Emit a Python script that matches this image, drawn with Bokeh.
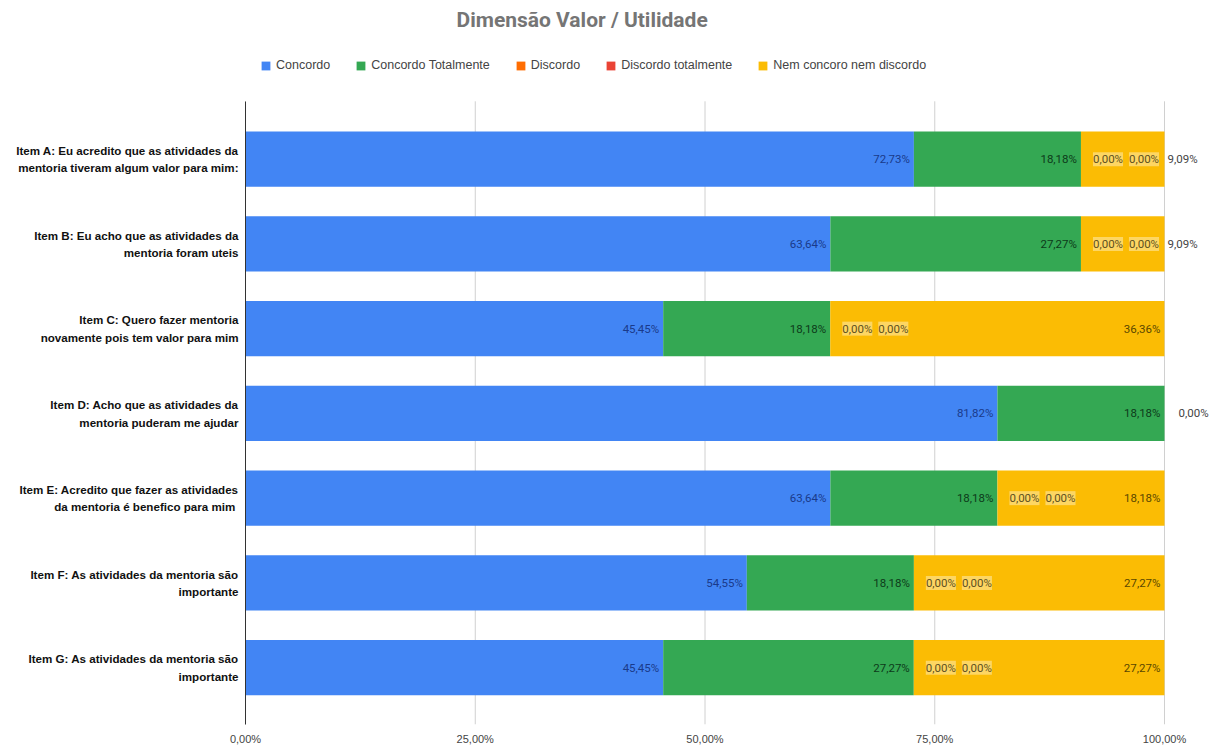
from bokeh.plotting import figure
from bokeh.models import (ColumnDataSource, FixedTicker, LabelSet,
                          Legend, LegendItem)
from bokeh.core.properties import value
from bokeh.embed import file_html
from bokeh.resources import INLINE

# ---------------- data ----------------
item_labels = [
    "Item A: Eu acredito que as atividades da\nmentoria tiveram algum valor para mim:",
    "Item B: Eu acho que as atividades da\nmentoria foram uteis",
    "Item C: Quero fazer mentoria\nnovamente pois tem valor para mim",
    "Item D: Acho que as atividades da\nmentoria puderam me ajudar",
    "Item E: Acredito que fazer as atividades\nda mentoria  é benefico para mim",
    "Item F: As atividades da mentoria são\nimportante",
    "Item G: As atividades da mentoria são\nimportante",
]
series_names = ["Concordo", "Concordo Totalmente", "Discordo",
                "Discordo totalmente", "Nem concoro nem discordo"]
concordo = [72.73, 63.64, 45.45, 81.82, 63.64, 54.55, 45.45]
concordo_totalmente = [18.18, 27.27, 18.18, 18.18, 18.18, 18.18, 27.27]
discordo = [0.00, 0.00, 0.00, 0.00, 0.00, 0.00, 0.00]
discordo_totalmente = [0.00, 0.00, 0.00, 0.00, 0.00, 0.00, 0.00]
nem = [9.09, 9.09, 36.36, 0.00, 18.18, 27.27, 27.27]
x_ticks = [0, 25, 50, 75, 100]
x_tick_labels = ["0,00%", "25,00%", "50,00%", "75,00%", "100,00%"]
colors = ["#4285F4", "#34A853", "#FF6D01", "#EA4335", "#FBBC04"]


def fmt(v):
    return ("%.2f%%" % v).replace(".", ",")


n = len(item_labels)
ypos = [n - 1 - i for i in range(n)]          # first item on top

cols = ["s0", "s1", "s2", "s3", "s4"]
src = ColumnDataSource(dict(y=ypos, s0=concordo, s1=concordo_totalmente,
                            s2=discordo, s3=discordo_totalmente, s4=nem))

# layout geometry (pixels): frame 245..1216 x 35..725, one row = 85 px
x_end = 100 * 971 / 919
y_lo = -57 / 85
y_bar_top = y_lo + 625 / 85
y_hi = y_lo + 690 / 85

p = figure(width=1216, height=747, x_range=(0, x_end), y_range=(y_lo, y_hi),
           output_backend="svg", toolbar_location=None,
           min_border_left=245, min_border_right=0,
           min_border_top=35, min_border_bottom=22)

# vertical grid lines limited to the bar area
p.segment(x0=x_ticks, x1=x_ticks, y0=[y_lo] * len(x_ticks),
          y1=[y_bar_top] * len(x_ticks), line_color="#d0d0d0", line_width=1)

renderers = p.hbar_stack(cols, y="y", height=0.65, color=colors,
                         line_color=None, source=src)

# title
p.title.text = "Dimensão Valor / Utilidade"
p.title.align = "left"
p.title.offset = 211
p.title.standoff = 10
p.title.text_font = "Roboto"
p.title.text_font_size = "21px"
p.title.text_font_style = "bold"
p.title.text_color = "#757575"

# axes
p.xaxis.ticker = FixedTicker(ticks=x_ticks)
p.xaxis.major_label_overrides = {t: l for t, l in zip(x_ticks, x_tick_labels)}
p.xaxis.axis_line_color = None
p.xaxis.major_tick_line_color = None
p.xaxis.minor_tick_line_color = None
p.xaxis.major_tick_out = 0
p.xaxis.major_tick_in = 0
p.xaxis.minor_tick_out = 0
p.xaxis.major_label_text_font = "Liberation Sans"
p.xaxis.major_label_text_font_size = "11px"
p.xaxis.major_label_text_color = "#444444"
p.xaxis.major_label_standoff = 8

p.yaxis.ticker = FixedTicker(ticks=ypos)
p.yaxis.major_label_overrides = {y: l for y, l in zip(ypos, item_labels)}
p.yaxis.bounds = (y_lo, y_bar_top)
p.yaxis.axis_line_color = "#333333"
p.yaxis.axis_line_width = 1
p.yaxis.major_tick_line_color = None
p.yaxis.minor_tick_line_color = None
p.yaxis.major_tick_out = 0
p.yaxis.major_tick_in = 0
p.yaxis.minor_tick_out = 0
p.yaxis.major_label_text_font = "Liberation Sans"
p.yaxis.major_label_text_font_size = "11.6px"
p.yaxis.major_label_text_font_style = "bold"
p.yaxis.major_label_text_color = "#111111"
p.yaxis.major_label_text_line_height = 1.35
p.yaxis.major_label_standoff = 7

p.xgrid.grid_line_color = None
p.ygrid.grid_line_color = None
p.outline_line_color = None

# legend
legend = Legend(items=[LegendItem(label=s, renderers=[r])
                       for s, r in zip(series_names, renderers)],
                orientation="horizontal", location=(15, 652),
                border_line_color=None, background_fill_alpha=0,
                label_text_font="Liberation Sans", label_text_font_size="12.5px",
                label_text_color="#444444", glyph_width=11, glyph_height=11,
                label_height=13, label_standoff=5, spacing=25, padding=0,
                margin=0)
p.add_layout(legend, "center")

# data labels
c1 = concordo
c2 = [a + b for a, b in zip(concordo, concordo_totalmente)]
font = value("Roboto")
fs = value("11.5px")

lab_src0 = ColumnDataSource(dict(x=c1, y=ypos, t=[fmt(v) for v in concordo]))
p.add_layout(LabelSet(x="x", y="y", text="t", source=lab_src0, x_offset=-4,
                      text_align="right", text_baseline="middle",
                      text_font=font, text_font_size=fs, text_color="#1a3a8a"))
lab_src1 = ColumnDataSource(dict(x=c2, y=ypos,
                                 t=[fmt(v) for v in concordo_totalmente]))
p.add_layout(LabelSet(x="x", y="y", text="t", source=lab_src1, x_offset=-4,
                      text_align="right", text_baseline="middle",
                      text_font=font, text_font_size=fs, text_color="#0d3a1a"))

# zero labels for Discordo / Discordo totalmente where the yellow bar exists
idx = [i for i in range(n) if nem[i] > 0]
for vals, off in ((discordo, 12), (discordo_totalmente, 48)):
    s = ColumnDataSource(dict(x=[c2[i] for i in idx], y=[ypos[i] for i in idx],
                              t=[fmt(vals[i]) for i in idx]))
    p.add_layout(LabelSet(x="x", y="y", text="t", source=s, x_offset=off,
                          text_align="left", text_baseline="middle",
                          text_font=font, text_font_size=fs,
                          text_color="#5e5020",
                          background_fill_color="#fff6d8",
                          background_fill_alpha=0.45))

# Nem labels: inside when wide enough, else outside
tot = [a + b + c + d + e for a, b, c, d, e in
       zip(concordo, concordo_totalmente, discordo, discordo_totalmente, nem)]
inside = [i for i in range(n) if nem[i] >= 10]
outside = [i for i in range(n) if nem[i] < 10]
s_in = ColumnDataSource(dict(x=[tot[i] for i in inside], y=[ypos[i] for i in inside],
                             t=[fmt(nem[i]) for i in inside]))
p.add_layout(LabelSet(x="x", y="y", text="t", source=s_in, x_offset=-4,
                      text_align="right", text_baseline="middle",
                      text_font=font, text_font_size=fs, text_color="#5a4700"))
s_out = ColumnDataSource(dict(x=[tot[i] for i in outside], y=[ypos[i] for i in outside],
                              t=[fmt(nem[i]) for i in outside],
                              o=[3 if nem[i] > 0 else 14 for i in outside]))
p.add_layout(LabelSet(x="x", y="y", text="t", source=s_out, x_offset="o",
                      text_align="left", text_baseline="middle",
                      text_font=font, text_font_size=fs, text_color="#444444"))

open("out.html", "w").write(file_html(p, INLINE))
